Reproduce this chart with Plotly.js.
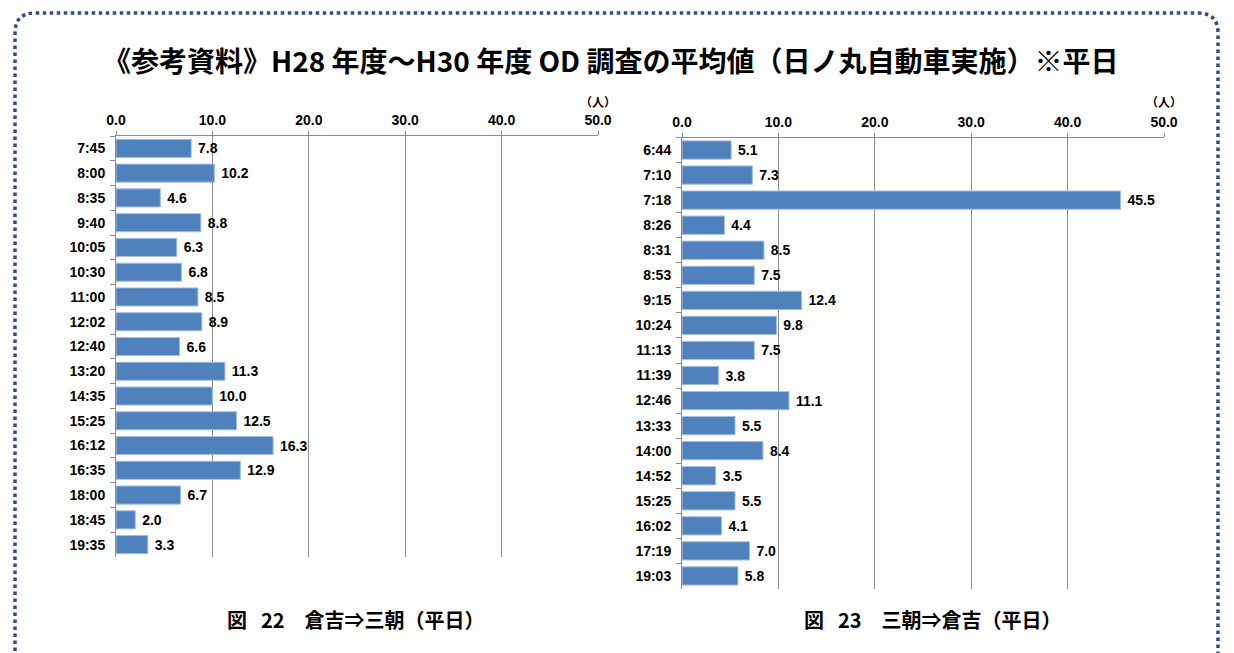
<!DOCTYPE html>
<html><head><meta charset="utf-8">
<script src="https://cdn.plot.ly/plotly-3.0.1.min.js"></script>
<style>html,body{margin:0;padding:0;background:#fff}#chart{width:1234px;height:653px}</style>
</head><body><div id="chart"></div>
<script>
const catsLeft = ["7:45","8:00","8:35","9:40","10:05","10:30","11:00","12:02","12:40","13:20","14:35","15:25","16:12","16:35","18:00","18:45","19:35"];
const valsLeft = [7.8,10.2,4.6,8.8,6.3,6.8,8.5,8.9,6.6,11.3,10.0,12.5,16.3,12.9,6.7,2.0,3.3];
const catsRight = ["6:44","7:10","7:18","8:26","8:31","8:53","9:15","10:24","11:13","11:39","12:46","13:33","14:00","14:52","15:25","16:02","17:19","19:03"];
const valsRight = [5.1,7.3,45.5,4.4,8.5,7.5,12.4,9.8,7.5,3.8,11.1,5.5,8.4,3.5,5.5,4.1,7.0,5.8];
const titleText = "《参考資料》H28 年度～H30 年度 OD 調査の平均値（日ノ丸自動車実施）※平日";
const captionLeft = "図\u2002\u200922\u2002\u2002倉吉⇒三朝（平日）";
const captionRight = "図\u2002\u200923\u2002\u2002三朝⇒倉吉（平日）";
const unitLabel = "（人）";

const W = 1234, H = 653;
const px = x => x / W;
const py = y => 1 - y / H;

const barColor = "#4F81BD";
const lab = {family: "Liberation Sans, Arial, sans-serif", size: 14, color: "#000", weight: "bold"};
const jp = "Noto Sans CJK JP, sans-serif";

function barTrace(cats, vals, xa, ya) {
  return {
    type: "bar", orientation: "h", y: cats, x: vals, xaxis: xa, yaxis: ya,
    marker: {color: barColor, line: {color: "#A7BEDF", width: 1}},
    text: vals.map(v => "\u00a0" + v.toFixed(1)), textposition: "outside", cliponaxis: false,
    textfont: lab, hoverinfo: "x+y", showlegend: false
  };
}

function xAxis(domain, anchor) {
  return {
    domain: domain, anchor: anchor, side: "top", range: [0, 50], dtick: 10, tick0: 0,
    tickformat: ".1f", showgrid: true, gridcolor: "#8c8c8c", gridwidth: 1,
    showline: true, linecolor: "#8c8c8c", linewidth: 1,
    ticks: "outside", ticklen: 4, tickcolor: "#8c8c8c",
    tickfont: lab, zeroline: false, fixedrange: true
  };
}
function yAxis(domain, anchor) {
  return {
    domain: domain, anchor: anchor, type: "category", autorange: "reversed",
    showline: true, linecolor: "#8c8c8c", linewidth: 1,
    ticks: "outside", ticklen: 5, tickcolor: "#8c8c8c", tickson: "boundaries",
    tickfont: lab, showgrid: false, zeroline: false, fixedrange: true, ticklabelstandoff: 7
  };
}

const data = [
  barTrace(catsLeft, valsLeft, "x", "y"),
  barTrace(catsRight, valsRight, "x2", "y2")
];

const b = {x0: 15, x1: 1218, y0: 13, r: 20, yb: 700};
const border = `M ${px(b.x0)},${py(b.yb)} L ${px(b.x0)},${py(b.y0 + b.r)} Q ${px(b.x0)},${py(b.y0)} ${px(b.x0 + b.r)},${py(b.y0)} L ${px(b.x1 - b.r)},${py(b.y0)} Q ${px(b.x1)},${py(b.y0)} ${px(b.x1)},${py(b.y0 + b.r)} L ${px(b.x1)},${py(b.yb)}`;

function ann(text, x, y, size) {
  return {text: text, xref: "paper", yref: "paper", x: px(x), y: py(y), showarrow: false,
          xanchor: "center", yanchor: "middle",
          font: {family: jp, size: size, color: "#000", weight: "bold"}};
}

const layout = {
  width: W, height: H, margin: {l: 0, r: 0, t: 0, b: 0},
  paper_bgcolor: "#fff", plot_bgcolor: "rgba(0,0,0,0)",
  bargap: 0.27, showlegend: false,
  xaxis: xAxis([px(116), px(598)], "y"),
  yaxis: yAxis([py(557), py(136)], "x"),
  xaxis2: xAxis([px(682), px(1164)], "y2"),
  yaxis2: yAxis([py(588.5), py(137.5)], "x2"),
  shapes: [{type: "path", xref: "paper", yref: "paper", path: border,
            line: {color: "#2E4C8C", width: 3.5, dash: "dot"}}],
  annotations: [
    ann(titleText, 610, 60, 28),
    ann(unitLabel, 598, 101, 12),
    ann(unitLabel, 1164, 101, 12),
    ann(captionLeft, 356, 619, 20),
    ann(captionRight, 933, 619, 20)
  ]
};

Plotly.newPlot("chart", data, layout, {displayModeBar: false, staticPlot: true});
</script></body></html>
